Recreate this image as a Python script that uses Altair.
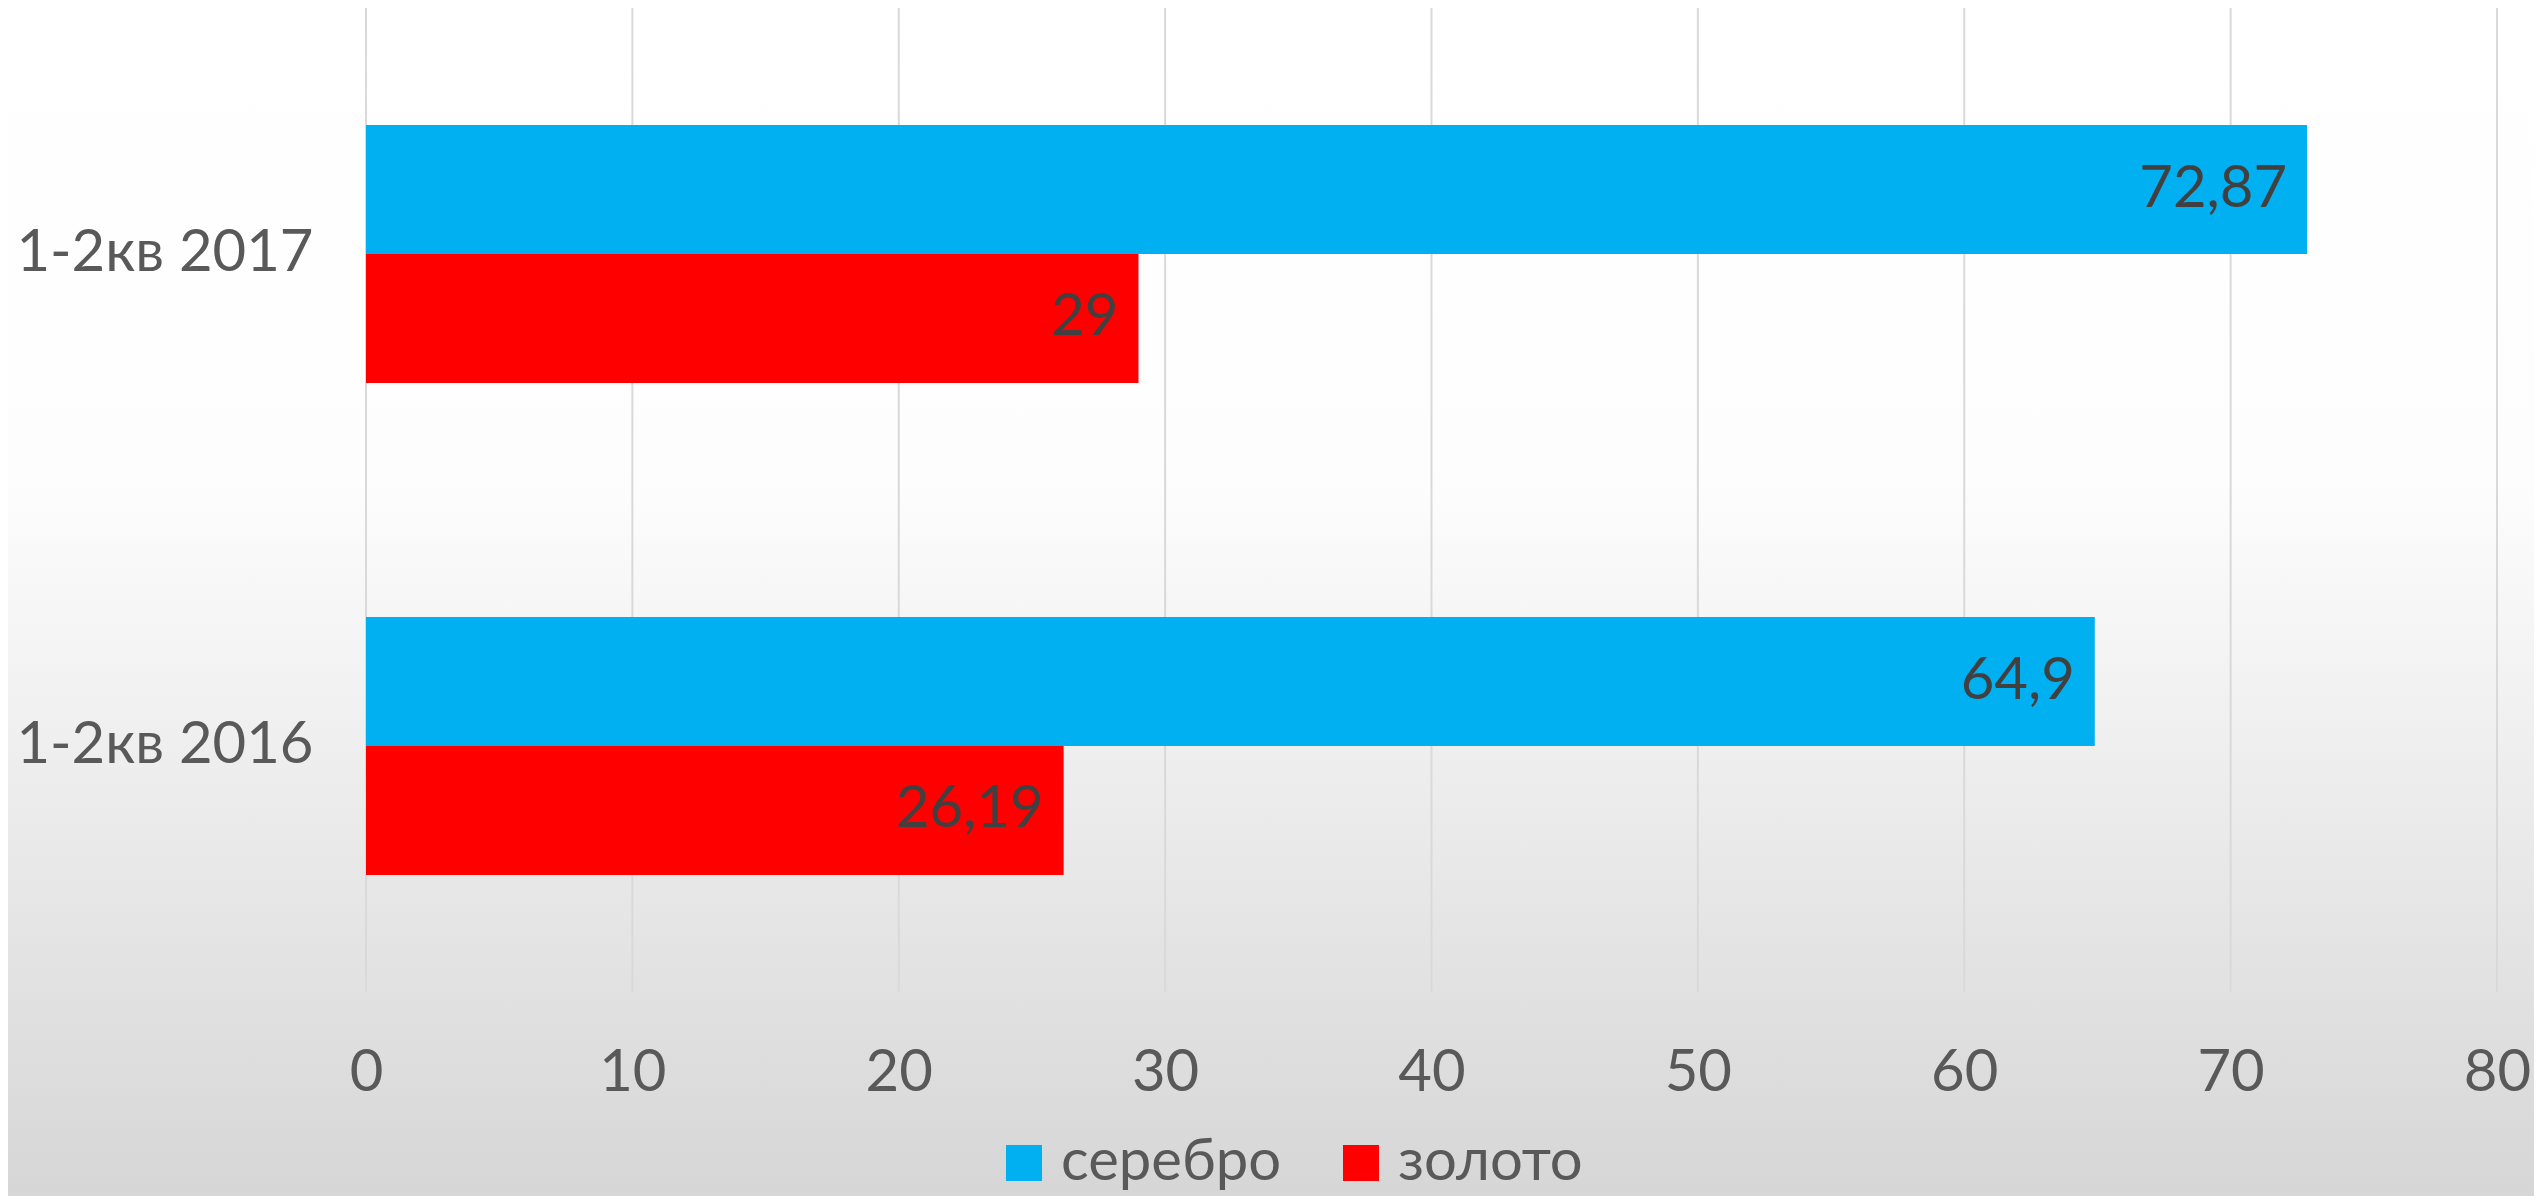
import altair as alt
import pandas as pd

categories = ["1-2кв 2017", "1-2кв 2016"]
series = ["серебро", "золото"]
silver = [72.87, 64.9]
gold = [29, 26.19]
x_ticks = [0, 10, 20, 30, 40, 50, 60, 70, 80]
colors = ["#00B0F0", "#FF0000"]

rows = []
for i, c in enumerate(categories):
    rows.append({"cat": c, "series": series[0], "value": silver[i]})
    rows.append({"cat": c, "series": series[1], "value": gold[i]})
df = pd.DataFrame(rows)
df["label"] = df["value"].map(lambda v: (f"{v:g}").replace(".", ","))

FONT = "Lato"
W, H = 2131, 984

bg = alt.Chart(pd.DataFrame({"a": [0]})).mark_rect(
    fill=alt.Gradient(
        gradient="linear",
        stops=[
            alt.GradientStop(offset=0, color="#ffffff"),
            alt.GradientStop(offset=0.4, color="#fdfdfd"),
            alt.GradientStop(offset=1, color="#d6d6d6"),
        ],
        x1=0, x2=0, y1=0, y2=1,
    )
).encode(
    x=alt.value(-358), x2=alt.value(W + 40), y=alt.value(0), y2=alt.value(1190)
)

grid = alt.Chart(pd.DataFrame({"t": x_ticks})).mark_rule(
    color="#d9d9d9", strokeWidth=2
).encode(x=alt.X("t:Q"))

xscale = alt.Scale(domain=[0, 80], nice=False)

base = alt.Chart(df).encode(
    y=alt.Y("cat:N", sort=categories, title=None,
            scale=alt.Scale(paddingInner=0.476, paddingOuter=0.238),
            axis=alt.Axis(labelFont=FONT, labelFontSize=58, labelColor="#595959",
                          ticks=False, domain=False, labelPadding=53, grid=False,
                          labelLimit=0, zindex=2)),
    yOffset=alt.YOffset("series:N", sort=series,
                        scale=alt.Scale(paddingInner=0, paddingOuter=0)),
)

bars = base.mark_bar().encode(
    x=alt.X("value:Q", title=None, scale=xscale,
            axis=alt.Axis(values=x_ticks, labelFont=FONT, labelFontSize=58,
                          labelColor="#595959", ticks=False, domain=False,
                          labelPadding=52, grid=False, labelFlush=False,
                          labelLimit=0, zindex=2)),
    color=alt.Color("series:N", sort=series,
                    scale=alt.Scale(domain=series, range=colors),
                    legend=alt.Legend(title=None, orient="none", direction="horizontal",
                                      legendX=629, legendY=1126, symbolType="square",
                                      symbolSize=1296, symbolStrokeWidth=0,
                                      labelFont=FONT, labelFontSize=58,
                                      labelColor="#595959", labelOffset=8,
                                      labelLimit=0, columnPadding=50, padding=0,
                                      zindex=2)),
)

texts = base.mark_text(align="right", baseline="middle", dx=-20, font=FONT,
                       fontSize=58, color="#404040").encode(
    x=alt.X("value:Q", scale=xscale),
    text="label:N",
)

chart = alt.layer(bg, grid, bars, texts).properties(
    width=W, height=H,
    autosize=alt.AutoSizeParams(type="none"),
    padding={"left": 358, "top": 0, "right": 37, "bottom": 204},
    background="#ffffff",
).configure_view(stroke=None)

chart.save("out.html", embed_options={"renderer": "svg", "actions": False})
